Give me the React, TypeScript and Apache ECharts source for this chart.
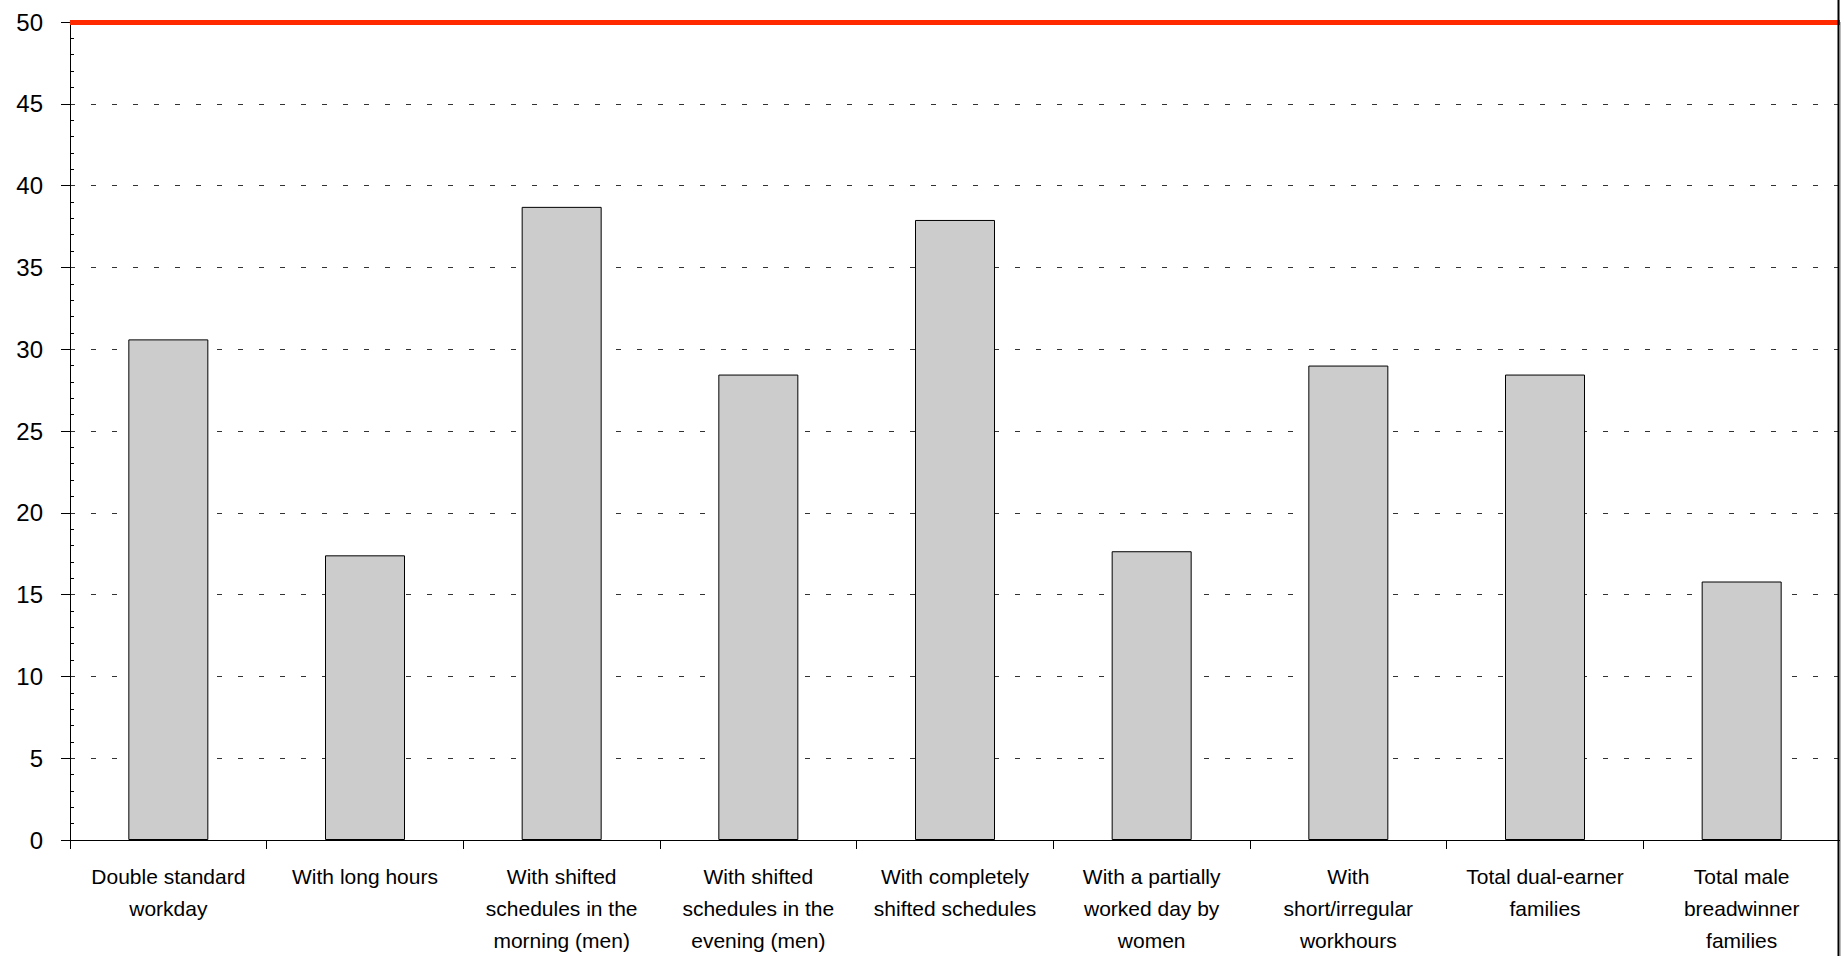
import React, { useEffect, useRef } from "react";
import * as echarts from "echarts";

const categories: string[] = [
  "Double standard\nworkday",
  "With long hours",
  "With shifted\nschedules in the\nmorning (men)",
  "With shifted\nschedules in the\nevening (men)",
  "With completely\nshifted schedules",
  "With a partially\nworked day by\nwomen",
  "With\nshort/irregular\nworkhours",
  "Total dual-earner\nfamilies",
  "Total male\nbreadwinner\nfamilies",
];

const values: number[] = [30.6, 17.4, 38.7, 28.45, 37.9, 17.65, 29.0, 28.45, 15.8];

const threshold = 50;
const yMin = 0;
const yMax = 50;
const yInterval = 5;

export default function App() {
  const ref = useRef<HTMLDivElement>(null);

  useEffect(() => {
    if (!ref.current) return;
    const chart = echarts.init(ref.current, null, { renderer: "svg" });
    const font = "'Liberation Sans', Arial, sans-serif";
    chart.setOption({
      animation: false,
      backgroundColor: "#ffffff",
      grid: {
        left: 70,
        right: 5,
        top: 22,
        bottom: 116,
        containLabel: false,
        outerBoundsMode: "none",
      },
      xAxis: {
        type: "category",
        data: categories,
        boundaryGap: true,
        axisLine: { show: true, lineStyle: { color: "#000", width: 1 } },
        axisTick: { show: true, length: 9, inside: false, lineStyle: { color: "#000" } },
        axisLabel: {
          interval: 0,
          margin: 20,
          color: "#000",
          fontFamily: font,
          fontSize: 21,
          lineHeight: 32,
          align: "center",
          verticalAlign: "top",
        },
        splitLine: { show: false },
      },
      yAxis: {
        type: "value",
        min: yMin,
        max: yMax,
        interval: yInterval,
        axisLine: { show: true, lineStyle: { color: "#000", width: 1 } },
        axisTick: { show: true, length: 9, lineStyle: { color: "#000" } },
        minorTick: { show: true, splitNumber: 5, length: -4, lineStyle: { color: "#000" } },
        axisLabel: {
          margin: 27,
          color: "#000",
          fontFamily: font,
          fontSize: 24,
        },
        splitLine: {
          show: true,
          lineStyle: { color: "#333", type: [5, 16], width: 1 },
        },
      },
      series: [
        {
          type: "bar",
          data: values,
          barWidth: 80,
          itemStyle: { color: "#cccccc", borderColor: "#000", borderWidth: 1 },
          markLine: {
            silent: true,
            symbol: "none",
            label: { show: false },
            lineStyle: { color: "#ff2a00", width: 5, type: "solid" },
            data: [{ yAxis: threshold }],
          },
        },
      ],
      graphic: [
        {
          type: "line",
          shape: { x1: 1838.5, y1: 0, x2: 1838.5, y2: 956 },
          style: { stroke: "#000", lineWidth: 2 },
          z: 100,
        },
        {
          type: "line",
          shape: { x1: 1840.5, y1: 22, x2: 1840.5, y2: 956 },
          style: { stroke: "#bbb", lineWidth: 1 },
          z: 100,
        },
      ],
    });
    return () => chart.dispose();
  }, []);

  return (
    <div
      ref={ref}
      style={{ position: "fixed", left: 0, top: 0, width: 1845, height: 956 }}
    />
  );
}
